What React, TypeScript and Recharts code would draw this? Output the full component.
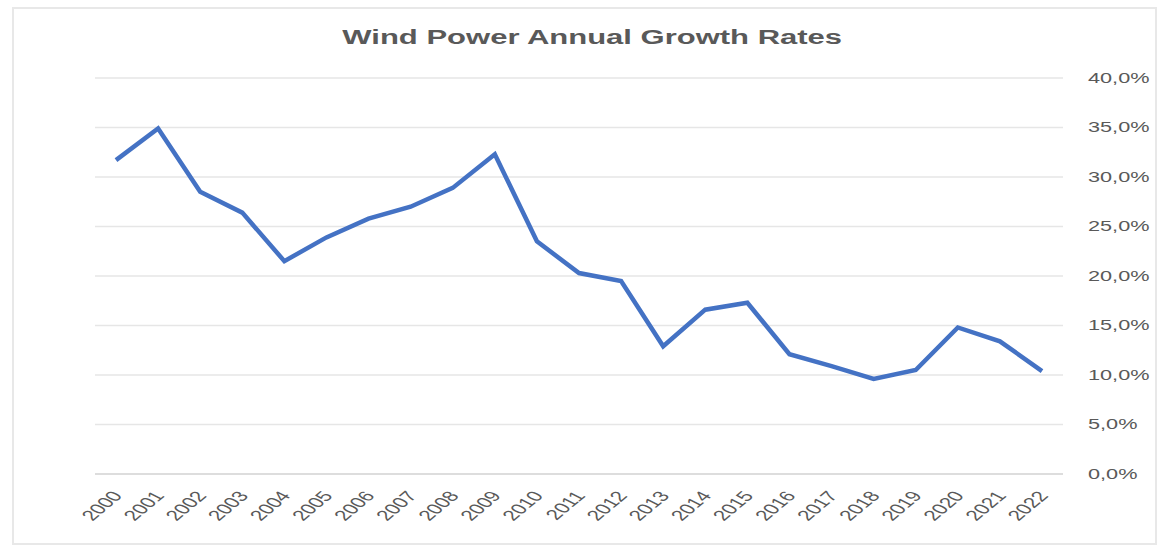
// Wind Power Annual Growth Rates - single line chart, right-hand % axis

import { LineChart, Line, XAxis, YAxis, CartesianGrid } from 'recharts';

// -----------------------------------------------------------------------------
// Data
// -----------------------------------------------------------------------------

const years = [
  '2000', '2001', '2002', '2003', '2004', '2005', '2006', '2007', '2008', '2009',
  '2010', '2011', '2012', '2013', '2014', '2015', '2016', '2017', '2018', '2019',
  '2020', '2021', '2022',
];

// annual growth rate, percent
const growthRates = [
  31.7, 34.9, 28.5, 26.4, 21.5, 23.9, 25.8, 27.0, 28.9, 32.3,
  23.5, 20.3, 19.5, 12.9, 16.6, 17.3, 12.1, 10.9, 9.6, 10.5,
  14.8, 13.4, 10.4,
];

const yTicks = [0, 5, 10, 15, 20, 25, 30, 35, 40];

const data = years.map((year, i) => ({ year, rate: growthRates[i] }));

// -----------------------------------------------------------------------------
// Styling
// -----------------------------------------------------------------------------

const FONT = '"Liberation Sans", Arial, sans-serif';
const TEXT = '#595959';
const LINE = '#4472C4';
const STRETCH = 1.55; // the source glyphs are wide

const formatPct = (v: number) => `${v.toFixed(1).replace('.', ',')}%`;

// -----------------------------------------------------------------------------
// Ticks
// -----------------------------------------------------------------------------

function YTick({ x, y, payload }: any) {
  return (
    <g transform={`translate(${x + 25},${y}) scale(${STRETCH},1)`}>
      <text textAnchor="start" dy="0.35em" fontSize={14} fill={TEXT} fontFamily={FONT}>
        {formatPct(payload.value)}
      </text>
    </g>
  );
}

function XTick({ x, y, payload }: any) {
  return (
    <g transform={`translate(${x + 1},${y + 19}) scale(${STRETCH},1) rotate(-52)`}>
      <text textAnchor="end" dy="0.35em" fontSize={14.5} fill={TEXT} fontFamily={FONT}>
        {payload.value}
      </text>
    </g>
  );
}

// -----------------------------------------------------------------------------
// App
// -----------------------------------------------------------------------------

export default function App() {
  return (
    <div style={{ position: 'absolute', left: 0, top: 0, width: 1159, height: 547, background: '#fff' }}>
      <div
        style={{
          position: 'absolute',
          left: 12,
          top: 7,
          width: 1145,
          height: 538,
          border: '2px solid #e8e8e8',
          boxSizing: 'border-box',
        }}
      />
      <div
        style={{
          position: 'absolute',
          left: 0,
          top: 27,
          width: 1184,
          textAlign: 'center',
          lineHeight: '20px',
          fontFamily: FONT,
          fontWeight: 'bold',
          fontSize: 20,
          color: TEXT,
        }}
      >
        <span style={{ display: 'inline-block', transform: `scaleX(${STRETCH})` }}>
          Wind Power Annual Growth Rates
        </span>
      </div>
      <div style={{ position: 'absolute', left: 0, top: 0 }}>
        <LineChart
          width={1159}
          height={547}
          data={data}
          margin={{ top: 78, right: 6, left: 95, bottom: 0 }}
        >
          <CartesianGrid vertical={false} stroke="#e6e6e6" strokeWidth={1.5} />
          <XAxis
            dataKey="year"
            height={73}
            padding={{ left: 21, right: 21 }}
            tickLine={false}
            tickSize={0}
            tickMargin={0}
            axisLine={{ stroke: '#d9d9d9', strokeWidth: 1.5 }}
            tick={XTick}
            interval={0}
          />
          <YAxis
            orientation="right"
            width={90}
            domain={[0, 40]}
            ticks={yTicks}
            tickLine={false}
            axisLine={false}
            tickSize={0}
            tickMargin={0}
            tick={YTick}
          />
          <Line
            type="linear"
            dataKey="rate"
            stroke={LINE}
            strokeWidth={4.5}
            dot={false}
            isAnimationActive={false}
          />
        </LineChart>
      </div>
    </div>
  );
}
